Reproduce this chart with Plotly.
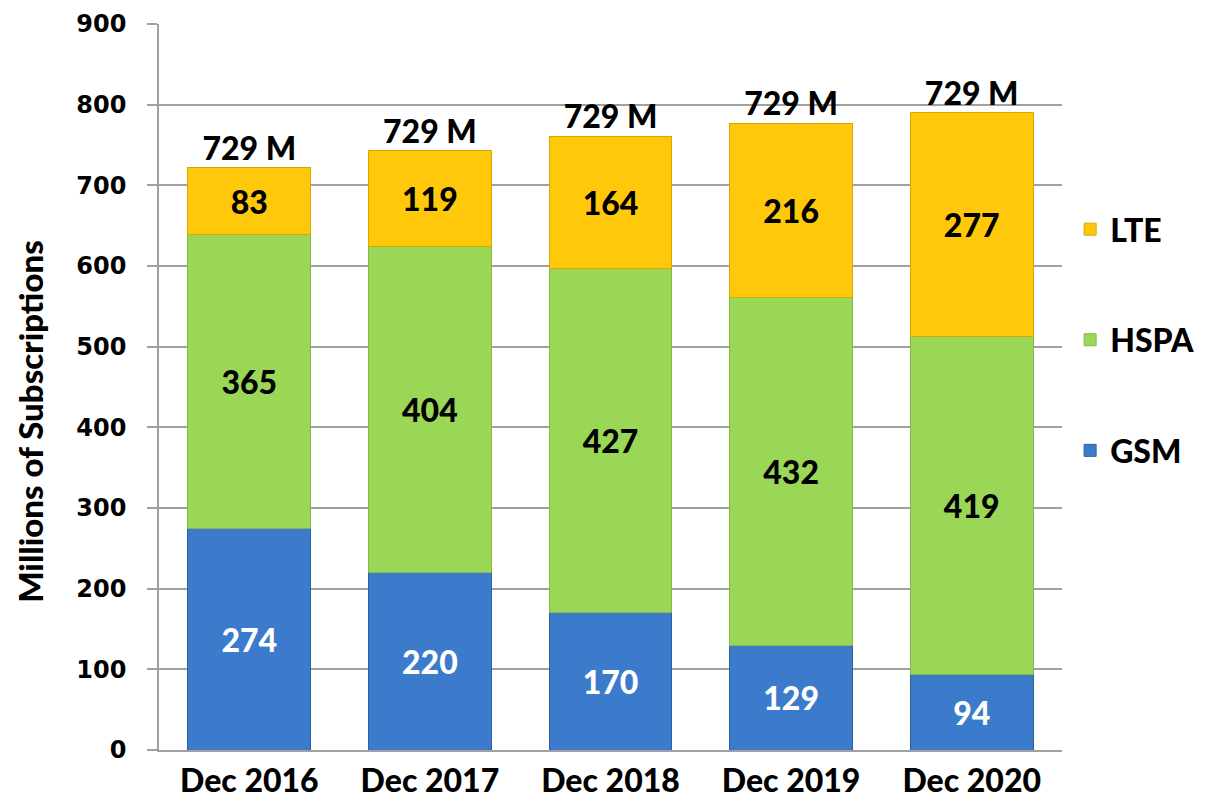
import plotly.graph_objects as go

categories = ["Dec 2016", "Dec 2017", "Dec 2018", "Dec 2019", "Dec 2020"]
gsm = [274, 220, 170, 129, 94]
hspa = [365, 404, 427, 432, 419]
lte = [83, 119, 164, 216, 277]
total_labels = ["729 M", "729 M", "729 M", "729 M", "729 M"]
y_ticks = [0, 100, 200, 300, 400, 500, 600, 700, 800, 900]
y_title = "Millions of Subscriptions"

totals = [g + h + l for g, h, l in zip(gsm, hspa, lte)]

LAB_FONT = "Lato, 'Open Sans', sans-serif"
W = 900

series = [
    ("GSM", gsm, "#3C7BCB", "#2F5F9C", "white", 3),
    ("HSPA", hspa, "#9BD757", "#84B94A", "black", 2),
    ("LTE", lte, "#FFC80A", "#D9A800", "black", 1),
]

fig = go.Figure()
for name, vals, col, edge, tcol, rank in series:
    fig.add_trace(go.Bar(
        x=categories, y=vals, name=name,
        legendgroup=name, legendrank=rank,
        marker=dict(color=col, line=dict(color=edge, width=1)),
        text=[str(v) for v in vals],
        textposition="inside", insidetextanchor="middle",
        textangle=0, constraintext="none",
        textfont=dict(family=LAB_FONT, size=32, color=tcol, weight=W),
        width=0.68,
    ))

fig.add_trace(go.Scatter(
    x=categories, y=totals, mode="text", text=total_labels,
    textposition="top center", showlegend=False, cliponaxis=False,
    textfont=dict(family=LAB_FONT, size=32, color="black", weight=W),
))

fig.add_annotation(
    text=y_title, textangle=-90, showarrow=False,
    xref="paper", yref="paper", x=0, y=0.452,
    xanchor="center", yanchor="middle", xshift=-129,
    font=dict(family=LAB_FONT, size=33, color="black", weight=W),
)

fig.update_layout(
    barmode="stack",
    width=1203, height=792,
    margin=dict(l=151, r=149, t=16, b=50, autoexpand=False),
    paper_bgcolor="white", plot_bgcolor="white",
    showlegend=True,
    legend=dict(
        x=1.009, y=0.755, xanchor="left", yanchor="top",
        traceorder="grouped", tracegroupgap=66,
        font=dict(family=LAB_FONT, size=32, color="black", weight=W),
        itemwidth=30, bgcolor="rgba(0,0,0,0)",
    ),
    xaxis=dict(
        automargin=False,
        showgrid=False, showline=True, linecolor="#A0A0A0", linewidth=1.5,
        ticks="", tickfont=dict(family=LAB_FONT, size=32, color="black", weight=W),
        ticklabelstandoff=2,
    ),
    yaxis=dict(
        automargin=False,
        range=[0, 900], tickvals=y_ticks,
        showgrid=True, gridcolor="#A0A0A0", gridwidth=1.5,
        showline=True, linecolor="#A0A0A0", linewidth=1.5,
        ticks="outside", ticklen=10, tickcolor="#A0A0A0", tickwidth=1.5,
        ticklabelstandoff=16,
        tickfont=dict(family="DejaVu Sans", size=24, color="black", weight="bold"),
        zeroline=False,
    ),
    bargap=0.32,
)

fig.write_html("out.html")
